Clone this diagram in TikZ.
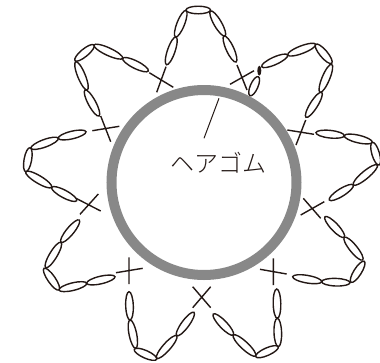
\documentclass[tikz,border=0pt]{standalone}
\usepackage{fontspec}
\newfontfamily\cjk{Noto Sans CJK JP Light}
\definecolor{cring}{RGB}{136,136,136}
\definecolor{cyarn}{RGB}{35,24,21}
\tikzset{hairpic/.style={x=1pt,y=-1pt,font=\cjk\fontsize{24}{25}\selectfont},
  yarn/.style={cyarn,line width=1.4pt},
  thinyarn/.style={cyarn,line width=1pt}}

\begin{document}
\begin{tikzpicture}[hairpic]
    \useasboundingbox (0,0) rectangle (380,362);
    \draw[cring,line width=10pt] (204,182.5) circle (92.5);
    % chain stitches, tip to tip
    \foreach \ax/\ay/\bx/\by in {186/10/210.5/10, 210.5/11/225/36, 224/36/236/62, 186/10.5/175.5/37, 176/37/166.5/64.7,
      148.3/71/122.7/58.3, 122.7/58.3/94/45, 94/45/75/60.7, 75.7/61.7/87.3/90, 85/90/99/116,
      86/131.7/58.3/138.3, 58.3/138.3/31/148.3, 30/147.7/25.7/171.7, 25.7/171.7/51.7/187.3, 51.7/187.3/76.7/200.7,
      79.3/220/61/242.3, 61/242.3/45.7/267.7, 44/268.3/59/290, 59/290/86.7/283.3, 86.7/283.3/115/276.7,
      129/291.7/130/320, 130/320/135.7/348.3, 134.3/349.3/156.7/359.3, 156.7/358.3/176.7/335.7, 176.7/335.7/194/312.3,
      213.3/314/233.3/335, 233.3/335/255.7/356, 255.7/356.7/278.3/346.7, 278.3/346.7/277.3/318.3, 277.3/318.3/276.7/289,
      292.7/276.7/321.7/281.7, 321.7/281.7/350/282.7, 351/282.3/364.3/261.3, 362.7/260/344.3/237.3, 344.3/237.3/325/216.7,
      329.3/200/353.3/185, 353.3/185/377.3/165, 379/165/372.3/142.3, 372.3/142.3/344.3/135.7, 344.3/135.7/316/132.7,
      306/117.3/321.7/92.3, 320/92.3/331.7/64.3, 331.7/63.3/315.7/44.3, 315.7/44.3/287.7/55, 287.7/55/261.7/66.7,
      258.3/76.7/250/95.7} {
      \pgfmathsetmacro\chainlen{veclen(\bx-\ax,\by-\ay)/2}
      \pgfmathsetmacro\chainang{-atan2(\by-\ay,\bx-\ax)}
      \draw[yarn,shift={({(\ax+\bx)/2},{(\ay+\by)/2})},rotate=\chainang] (0,0) ellipse ({\chainlen pt} and 3.8pt);
    }
    \fill[cyarn] (259.3,70.7) ellipse (2pt and 5pt);
    % single crochet crosses
    \foreach \ax/\ay/\bx/\by/\cx/\cy/\dx/\dy in {166/66.7/156.7/92.3/149.3/72.7/173.3/87.3, 237/65/247/90/230/84.3/254/70.7,
      100.7/116/110.7/141.7/92.3/130.7/119.3/126.3, 98.3/194/80/214.3/76/198.3/100.7/211,
      129/257.3/129/284/116/272.7/142.7/268.3, 192.7/286.7/210.7/307.7/210.7/286.7/192.7/307.7,
      273.3/258.3/273.3/285/260/269.3/286.7/274, 303.3/198.3/320.7/218.3/300.7/215/324.3/201.7,
      287.3/130/314/134.3/305.7/120/296/145} {
      \draw[yarn] (\ax,\ay) -- (\bx,\by) (\cx,\cy) -- (\dx,\dy);
    }
    \coordinate (ringpt) at (219,98.3);
    \coordinate (labelpt) at (204,138.3);
    \draw[thinyarn] (ringpt) -- (labelpt);
    \node[cyarn,inner sep=0pt] (gomu) at (218,162.5) {ヘアゴム};
\end{tikzpicture}
\end{document}
